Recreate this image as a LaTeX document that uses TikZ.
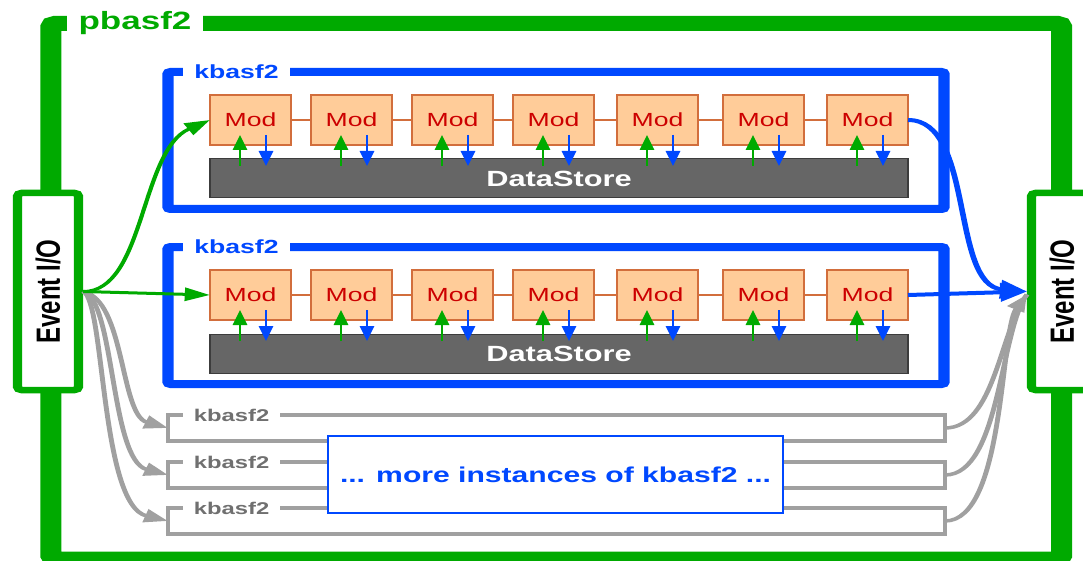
\documentclass[tikz,border=0pt]{standalone}
\usepackage{fontspec}
\setmainfont{Liberation Sans}
\usetikzlibrary{arrows.meta}

\definecolor{pgreen}{RGB}{0,170,0}
\definecolor{kblue}{RGB}{0,72,255}
\definecolor{modfill}{RGB}{255,204,153}
\definecolor{modline}{RGB}{210,110,60}
\definecolor{modred}{RGB}{204,0,0}
\definecolor{dsfill}{RGB}{102,102,102}
\definecolor{dsline}{RGB}{60,60,60}
\definecolor{instgray}{RGB}{160,160,160}
\definecolor{labelgray}{RGB}{112,112,112}

\tikzset{
    frame/.style={draw=pgreen, line width=15pt, rounded corners=3pt, outer sep=0pt,
        minimum width=721.8pt, minimum height=535.5pt},
    evio/.style={draw=pgreen, fill=white, line width=6.5pt, rounded corners=3pt,
        minimum width=43.6pt, minimum height=197pt, inner sep=0pt,
        font=\bfseries\fontsize{24}{24}\selectfont},
    kbox/.style={draw=kblue, line width=8pt, rounded corners=2pt, outer sep=0pt,
        minimum width=554.3pt, minimum height=137pt},
    klabel/.style={fill=white, text=kblue, inner xsep=8pt, inner ysep=1pt,
        font=\bfseries\fontsize{19}{19}\selectfont},
    mod/.style={draw=modline, fill=modfill, line width=1.5pt, outer sep=0pt,
        minimum width=57.9pt, minimum height=50pt, inner sep=0pt, text=modred,
        font=\fontsize{19}{19}\selectfont},
    ds/.style={draw=dsline, fill=dsfill, line width=1pt, outer sep=0pt,
        minimum width=498.6pt, minimum height=39pt, inner sep=0pt, text=white,
        font=\bfseries\fontsize{22}{22}\selectfont},
    chain/.style={draw=modline, line width=1.5pt},
    uparr/.style={draw=pgreen, line width=2pt, -{Triangle[length=15pt, width=10pt]}},
    downarr/.style={draw=kblue, line width=2pt, -{Triangle[length=15pt, width=10pt]}},
    inst/.style={draw=instgray, line width=3.5pt, outer sep=0pt,
        minimum width=555pt, minimum height=26pt},
    glabel/.style={fill=white, text=labelgray, inner xsep=8pt, inner ysep=1pt,
        font=\bfseries\fontsize{17}{17}\selectfont},
    more/.style={draw=kblue, fill=white, line width=1.5pt,
        minimum width=325pt, minimum height=77pt, text=kblue,
        font=\bfseries\fontsize{21.5}{21.5}\selectfont},
    gin/.style={draw=pgreen, line width=3pt, -{Triangle[length=18pt, width=13pt]}},
    bout/.style={draw=kblue, line width=4pt, -{Triangle[length=19pt, width=18pt]}},
    gray/.style={draw=instgray, line width=3.5pt, -{Triangle[length=17pt, width=13pt]}},
    grayline/.style={draw=instgray, line width=3.5pt},
}

\begin{document}
\begin{tikzpicture}
    \useasboundingbox (0,0) rectangle (1083pt,-561pt);
    \clip (0,0) rectangle (1083pt,-561pt);
    \begin{scope}[x=0.7143pt, y=-1pt, transform canvas={xscale=1.4}]

    % Marco pbasf2
    \node[frame] (pb) at (556.25,291.25) {};
    \node[fill=white, text=pgreen, inner xsep=8pt, inner ysep=2pt,
        font=\bfseries\fontsize{25}{25}\selectfont] (pbt) at ([xshift=60pt]pb.north west) {pbasf2};

    % Event I/O
    \node[evio] (evl) at (48,291.5) {\rotatebox{90}{Event I/O}};
    \node[evio] (evr) at (1062,291.5) {\rotatebox{90}{Event I/O}};

    % Instancias kbasf2
    \foreach \r/\y in {1/120,2/295}{
        \node[kbox] (kb\r) at (556,\y+20.5) {};
        \node[klabel] (kbt\r) at ([xshift=48.9pt]kb\r.north west) {kbasf2};
        \node[ds] (ds\r) at (559,\y+58.5) {DataStore};
        \foreach \i/\x in {1/250.5,2/351.5,3/452.5,4/553.5,5/657.5,6/763.5,7/867.5}{
            \node[mod] (m\r\i) at (\x,\y) {Mod};
            \draw[uparr] (m\r\i.south west) ++(30,21) -- ++(0,-31);
            \draw[downarr] (m\r\i.south west) ++(56,-10) -- ++(0,31);
        }
        \foreach \i [remember=\i as \p (initially 1)] in {2,...,7}
            \draw[chain] (m\r\p.east) -- (m\r\i.west);
    }

    % Mas instancias
    \foreach \k/\y in {1/428,2/475,3/521}{
        \node[inst] (k\k) at (556.5,\y) {};
        \node[glabel] (kt\k) at ([xshift=45.4pt]k\k.north west) {kbasf2};
    }
    \node[more] (more) at (555.5,474.5) {... more instances of kbasf2 ...};

    % Conexiones grises
    \draw[gray] (evl.east) .. controls (125,300) and (120,415) .. (k1.west);
    \draw[gray] (evl.east) .. controls (115,300) and (110,460) .. (k2.west);
    \draw[gray] (evl.east) .. controls (105,300) and (100,505) .. (k3.west);
    \draw[grayline] (k1.east) .. controls (995,428) and (1000,330) .. ([yshift=-3pt]evr.west);
    \draw[grayline] (k2.east) .. controls (1000,475) and (1000,330) .. ([yshift=-3pt]evr.west);
    \draw[gray] (k3.east) .. controls (1005,521) and (1000,330) .. ([yshift=-3pt]evr.west);

    % Entrada y salida
    \draw[gin] (evl.east) .. controls (145,292) and (140,150) .. (m11.west);
    \draw[gin] (evl.east) -- (m21.west);
    \draw[bout] (m17.east) .. controls (975,120) and (950,285) .. (evr.west);
    \draw[bout] (m27.east) -- (evr.west);

    \end{scope}
\end{tikzpicture}
\end{document}
